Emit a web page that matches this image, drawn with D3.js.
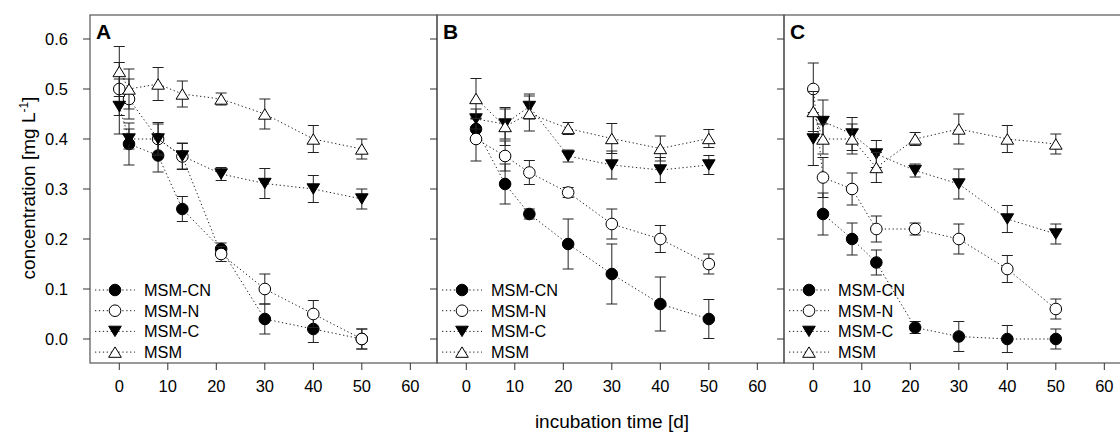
<!DOCTYPE html>
<html>
<head>
<meta charset="utf-8">
<script src="https://cdn.jsdelivr.net/npm/d3@7"></script>
<style>
    body { margin: 0; background: #fff; }
    svg { display: block; font-family: Arial, "Liberation Sans", sans-serif; }
</style>
</head>
<body>
<svg id="chart" width="1120" height="432"></svg>
<script>
// Data
const seriesNames = ["MSM-CN", "MSM-N", "MSM-C", "MSM"];
const panelLabels = ["A", "B", "C"];
const xTicks = [0, 10, 20, 30, 40, 50, 60];
const yTicks = [0.0, 0.1, 0.2, 0.3, 0.4, 0.5, 0.6];

// Panel A
const daysA = [0, 2, 8, 13, 21, 30, 40, 50];
const aCN = [null, 0.39, 0.367, 0.26, 0.18, 0.04, 0.02, 0.0];
const aCNErr = [null, 0.042, 0.033, 0.025, 0.012, 0.03, 0.027, 0.02];
const aN = [0.50, 0.48, 0.40, 0.365, 0.17, 0.10, 0.05, 0.0];
const aNErr = [0.053, 0.04, 0.03, 0.026, 0.015, 0.03, 0.027, 0.02];
const aC = [0.465, 0.40, 0.40, 0.366, 0.33, 0.311, 0.30, 0.28];
const aCErr = [0.055, 0.02, 0.033, 0.026, 0.013, 0.03, 0.027, 0.02];
const aM = [0.535, 0.50, 0.51, 0.49, 0.48, 0.45, 0.40, 0.38];
const aMErr = [0.05, 0.04, 0.033, 0.026, 0.012, 0.03, 0.027, 0.02];

// Panel B
const daysB = [2, 8, 13, 21, 30, 40, 50];
const bCN = [0.42, 0.31, 0.25, 0.19, 0.13, 0.07, 0.04];
const bCNErr = [0.02, 0.04, 0.01, 0.05, 0.06, 0.054, 0.039];
const bN = [0.40, 0.366, 0.333, 0.293, 0.23, 0.20, 0.15];
const bNErr = [0.044, 0.03, 0.024, 0.01, 0.03, 0.027, 0.02];
const bC = [0.44, 0.43, 0.465, 0.366, 0.348, 0.338, 0.348];
const bCErr = [0.02, 0.03, 0.025, 0.012, 0.028, 0.025, 0.019];
const bM = [0.481, 0.425, 0.451, 0.421, 0.401, 0.381, 0.401];
const bMErr = [0.04, 0.038, 0.035, 0.012, 0.03, 0.025, 0.018];

// Panel C
const daysC = [0, 2, 8, 13, 21, 30, 40, 50];
const cCN = [null, 0.25, 0.20, 0.153, 0.023, 0.005, 0.0, 0.0];
const cCNErr = [null, 0.042, 0.032, 0.025, 0.012, 0.03, 0.027, 0.02];
const cN = [0.50, 0.323, 0.30, 0.22, 0.22, 0.20, 0.14, 0.06];
const cNErr = [0.052, 0.04, 0.032, 0.026, 0.012, 0.03, 0.027, 0.02];
const cC = [0.40, 0.435, 0.41, 0.37, 0.337, 0.31, 0.24, 0.21];
const cCErr = [0.053, 0.043, 0.033, 0.027, 0.013, 0.03, 0.027, 0.02];
const cM = [0.455, 0.40, 0.40, 0.343, 0.40, 0.42, 0.40, 0.39];
const cMErr = [0.04, 0.03, 0.03, 0.03, 0.013, 0.03, 0.027, 0.02];

const panels = [
    { days: daysA, values: [aCN, aN, aC, aM], errors: [aCNErr, aNErr, aCErr, aMErr] },
    { days: daysB, values: [bCN, bN, bC, bM], errors: [bCNErr, bNErr, bCErr, bMErr] },
    { days: daysC, values: [cCN, cN, cC, cM], errors: [cCNErr, cNErr, cCErr, cMErr] }
];

// Layout
const panelLeft = [90, 437, 784];
const panelWidth = 347;
const plotTop = 15, plotBottom = 363;
const tickLen = 7;

const svg = d3.select("#chart");

const xScale = d3.scaleLinear().domain([-6.04, 65.5]).range([0, panelWidth]);
const yScale = d3.scaleLinear().domain([-0.048, 0.648]).range([plotBottom, plotTop]);

// Marker shapes: filled circle, open circle, filled down triangle, open up triangle
function drawMarker(g, kind, x, y) {
    const fill = (kind === 0 || kind === 2) ? "#000" : "#fff";
    if (kind < 2) {
        g.append("circle")
            .attr("cx", x).attr("cy", y).attr("r", 5.8)
            .attr("fill", fill).attr("stroke", "#000").attr("stroke-width", 1);
    } else {
        const w = 6.3, h = 5.2;
        const pts = kind === 2
            ? [[x - w, y - h], [x + w, y - h], [x, y + h]]
            : [[x - w, y + h], [x + w, y + h], [x, y - h]];
        g.append("path")
            .attr("d", d3.line()(pts) + "Z")
            .attr("fill", fill).attr("stroke", "#000").attr("stroke-width", 1);
    }
}

panels.forEach(function(p, pi) {
    const g = svg.append("g").attr("transform", `translate(${panelLeft[pi]},0)`);

    // Frame
    g.append("rect")
        .attr("x", 0).attr("y", plotTop)
        .attr("width", panelWidth).attr("height", plotBottom - plotTop)
        .attr("fill", "none").attr("stroke", "#555").attr("stroke-width", 1.2);

    // Y ticks (outward, left)
    g.selectAll(".ytick").data(yTicks).enter().append("line")
        .attr("x1", -tickLen).attr("x2", 0)
        .attr("y1", d => yScale(d)).attr("y2", d => yScale(d))
        .attr("stroke", "#333");

    if (pi === 0) {
        g.selectAll(".ylab").data(yTicks).enter().append("text")
            .attr("x", -22).attr("y", d => yScale(d))
            .attr("dy", "0.36em")
            .attr("text-anchor", "end")
            .attr("font-size", 16.5)
            .text(d => d.toFixed(1));
    }

    // X ticks (outward, down)
    g.selectAll(".xtick").data(xTicks).enter().append("line")
        .attr("x1", d => xScale(d)).attr("x2", d => xScale(d))
        .attr("y1", plotBottom).attr("y2", plotBottom + tickLen)
        .attr("stroke", "#333");

    g.selectAll(".xlab").data(xTicks).enter().append("text")
        .attr("x", d => xScale(d)).attr("y", 392)
        .attr("text-anchor", "middle")
        .attr("font-size", 16.5)
        .text(d => d);

    // Panel letter
    g.append("text")
        .attr("x", 6).attr("y", 38.5)
        .attr("font-size", 21).attr("font-weight", "bold")
        .text(panelLabels[pi]);

    // Series: dotted line, error bars, markers
    p.values.forEach(function(vals, si) {
        const errs = p.errors[si];
        const pts = p.days.map((d, i) => ({ d: d, v: vals[i], e: errs[i] }))
            .filter(o => o.v !== null);

        const line = d3.line()
            .x(o => xScale(o.d))
            .y(o => yScale(o.v));

        const sg = g.append("g");
        sg.append("path")
            .datum(pts)
            .attr("d", line)
            .attr("fill", "none")
            .attr("stroke", "#222")
            .attr("stroke-width", 1)
            .attr("stroke-dasharray", "1.3,2.6");

        pts.forEach(function(o) {
            const x = xScale(o.d);
            const y1 = yScale(o.v + o.e), y2 = yScale(o.v - o.e);
            sg.append("line").attr("x1", x).attr("x2", x).attr("y1", y1).attr("y2", y2)
                .attr("stroke", "#222");
            sg.append("line").attr("x1", x - 5.5).attr("x2", x + 5.5).attr("y1", y1).attr("y2", y1)
                .attr("stroke", "#222");
            sg.append("line").attr("x1", x - 5.5).attr("x2", x + 5.5).attr("y1", y2).attr("y2", y2)
                .attr("stroke", "#222");
        });

        pts.forEach(function(o) {
            drawMarker(sg, si, xScale(o.d), yScale(o.v));
        });
    });

    // Legend
    const lg = g.append("g");
    seriesNames.forEach(function(name, i) {
        const ly = 290 + i * 20.7;
        lg.append("line")
            .attr("x1", 5).attr("x2", 45).attr("y1", ly).attr("y2", ly)
            .attr("stroke", "#222").attr("stroke-dasharray", "1.3,2.6");
        drawMarker(lg, i, 25, ly);
        lg.append("text")
            .attr("x", 54).attr("y", ly).attr("dy", "0.36em")
            .attr("font-size", 16.3)
            .text(name);
    });
});

// Axis titles
const yTitle = svg.append("text")
    .attr("transform", "translate(35,188) rotate(-90)")
    .attr("text-anchor", "middle")
    .attr("font-size", 19);
yTitle.append("tspan").text("concentration [mg L");
yTitle.append("tspan").attr("font-size", 12).attr("dy", -7).text("-1");
yTitle.append("tspan").attr("dy", 7).text("]");

svg.append("text")
    .attr("x", 612).attr("y", 428)
    .attr("text-anchor", "middle")
    .attr("font-size", 19)
    .text("incubation time [d]");
</script>
</body>
</html>
